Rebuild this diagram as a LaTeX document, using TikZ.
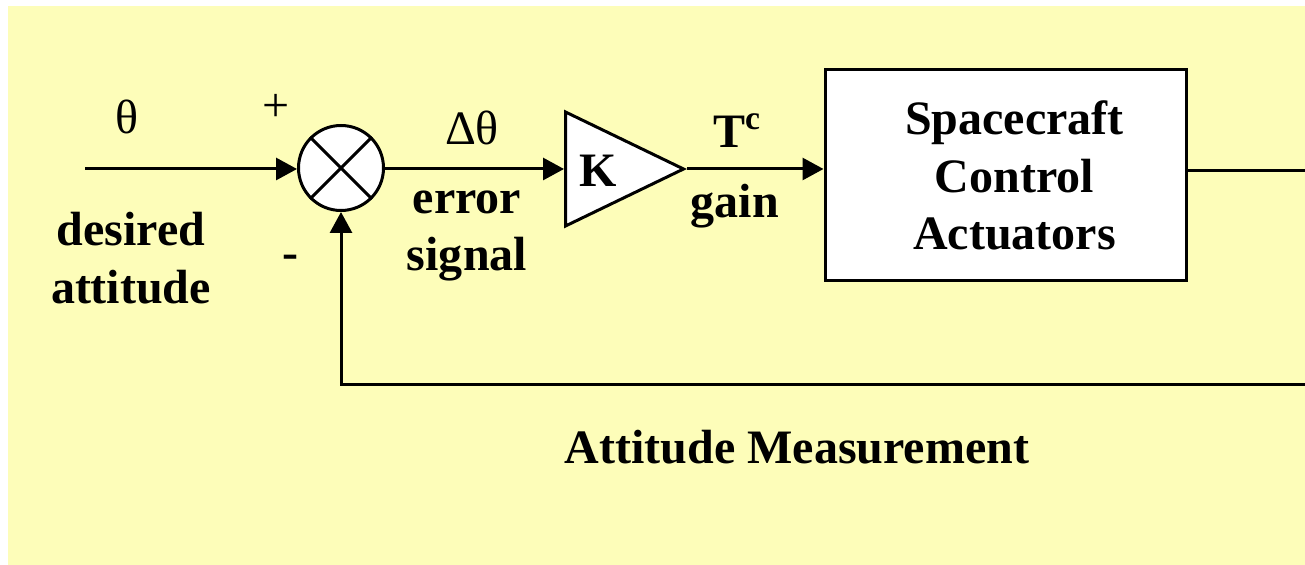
\documentclass[tikz,border=0pt]{standalone}
\usepackage{fontspec}
\setmainfont{Liberation Serif}
\usepackage{xcolor}
\usepackage{tikz}
\usetikzlibrary{arrows.meta,shapes.geometric}

\definecolor{bgyellow}{RGB}{253,253,185}
\newcommand{\diagfont}{\fontsize{24}{28.75}\selectfont}

\begin{document}
\begin{tikzpicture}[
  x=0.5pt, y=-0.5pt,
  lbl/.style={font=\diagfont\bfseries, inner sep=0pt, align=center},
  sym/.style={font=\diagfont, inner sep=0pt},
  arr/.style={-{Triangle[length=10.5pt,width=11pt]}, line width=1.5pt},
  ln/.style={line width=1.5pt},
  sumnode/.style={draw, circle, fill=white, line width=1.5pt, minimum size=42.5pt, inner sep=0pt},
  gainnode/.style={draw, isosceles triangle, isosceles triangle stretches, fill=white, line width=1.5pt, minimum width=57pt, minimum height=59pt, inner sep=0pt},
  blockbox/.style={draw, rectangle, fill=white, line width=1.5pt, minimum width=180.5pt, minimum height=105.5pt, inner sep=0pt, font=\diagfont\bfseries, align=center},
]
\useasboundingbox (0,0) rectangle (1305,565);
\fill[bgyellow] (8,6) rectangle (1305,565);

\node[sumnode] (sum) at (341,168) {};
\draw[ln] (sum.45) -- (sum.225) (sum.135) -- (sum.-45);
\node[gainnode, anchor=west] (gain) at (564,169) {};
\node[lbl, anchor=base] (klbl) at (598,187) {K};
\node[blockbox] (act) at (1005.5,175.5) {\hspace*{9pt}Spacecraft\\\hspace*{9pt}Control\\\hspace*{9pt}Actuators};

\coordinate (inp) at (85,169);
\coordinate (outp) at (1305,171);
\coordinate (fb) at (1305,385);

\draw[arr] (inp) -- (inp -| sum.west);
\draw[arr] (sum.east |- gain.west) -- (gain.west);
\draw[arr] (gain.apex) -- (act.west |- gain.apex);
\draw[ln] (act.east |- outp) -- (outp);
\draw[arr] (fb) -- (fb -| sum) -- (sum.south);

\node[sym, anchor=base] (theta) at (127,134) {θ};
\node[sym] (plus) at (276,108) {+};
\node[lbl] (minus) at (290,262) {-};
\node[lbl] (desired) at (131,258) {desired\\attitude};
\node[sym, anchor=base] (dtheta) at (472,145) {Δθ};
\node[lbl] (errsig) at (467,236) {error\\signal};
\node[lbl, anchor=base] (tc) at (737,148) {T\textsuperscript{c}};
\node[lbl, anchor=base] (gainlbl) at (735,218) {gain};
\node[lbl, anchor=base] (meas) at (797,464) {Attitude Measurement};
\end{tikzpicture}
\end{document}
